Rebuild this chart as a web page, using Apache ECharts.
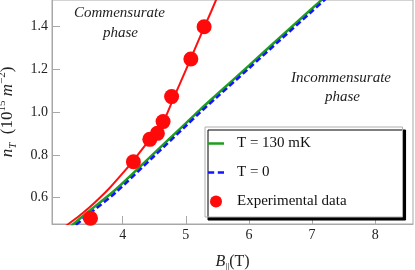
<!DOCTYPE html>
<html>
<head>
<meta charset="utf-8">
<script src="https://cdn.jsdelivr.net/npm/echarts@6/dist/echarts.min.js"></script>
<style>html,body{margin:0;padding:0;background:#fff}#c{width:415px;height:270px}</style>
</head>
<body>
<div id="c"></div>
<script>
// ---- data ----
const xTicks = [4, 5, 6, 7, 8];
const yTicks = [0.6, 0.8, 1.0, 1.2, 1.4];

const green130B = [3.15, 3.5, 3.88, 4.5, 5.0, 5.22, 5.5, 6.0, 6.5, 7.0, 7.25];
const green130N = [0.460, 0.545, 0.636, 0.809, 0.948, 1.010, 1.085, 1.218, 1.352, 1.485, 1.552];

const blue0B = [3.15, 3.5, 3.88, 4.5, 5.0, 5.22, 5.5, 6.0, 6.5, 7.0, 7.25];
const blue0N = [0.446, 0.531, 0.622, 0.795, 0.935, 0.997, 1.072, 1.205, 1.339, 1.472, 1.539];

const redFitB = [3.05, 3.14, 3.3, 3.48, 3.65, 3.8, 3.98, 4.17, 4.43, 4.64, 4.8, 5.0, 5.2, 5.4, 5.55];
const redFitN = [0.458, 0.477, 0.512, 0.556, 0.603, 0.648, 0.708, 0.774, 0.873, 0.952, 1.062, 1.197, 1.335, 1.470, 1.575];

const expB = [3.49, 4.17, 4.43, 4.55, 4.64, 4.775, 5.08, 5.29];
const expN = [0.504, 0.768, 0.873, 0.901, 0.956, 1.073, 1.249, 1.400];

const zip = (a, b) => a.map((v, i) => [v, b[i]]);

const serif = 'Liberation Serif';
const chart = echarts.init(document.getElementById('c'), null, {renderer: 'canvas'});
chart.setOption({
  animation: false,
  backgroundColor: '#fff',
  grid: {left: 52, right: 2, top: 0, bottom: 46, outerBoundsMode: 'none', containLabel: false,
    show: true, borderColor: '#a8a8a8', borderWidth: 1, backgroundColor: 'transparent'},
  xAxis: {
    type: 'value', min: 2.88, max: 8.6,
    axisLine: {lineStyle: {color: '#a8a8a8', width: 1}},
    axisTick: {inside: true, length: 8, customValues: xTicks, lineStyle: {color: '#a8a8a8'}},
    axisLabel: {customValues: xTicks, margin: 4, fontFamily: serif, fontSize: 14, color: '#222'},
    splitLine: {show: false},
    name: '{b|B}{s|||}{t|(T)}',
    nameLocation: 'middle', nameGap: 28,
    nameTextStyle: {
      rich: {
        b: {fontFamily: serif, fontStyle: 'italic', fontSize: 16, color: '#222', lineHeight: 20},
        s: {fontFamily: serif, fontSize: 10, color: '#222', verticalAlign: 'bottom', lineHeight: 14},
        t: {fontFamily: serif, fontSize: 16, color: '#222', lineHeight: 20}
      }
    }
  },
  yAxis: {
    type: 'value', min: 0.477, max: 1.525,
    axisLine: {lineStyle: {color: '#a8a8a8', width: 1}},
    axisTick: {inside: true, length: 8, customValues: yTicks, lineStyle: {color: '#a8a8a8'}},
    axisLabel: {customValues: yTicks, margin: 4, fontFamily: serif, fontSize: 14, color: '#222',
      formatter: v => v.toFixed(1)},
    splitLine: {show: false},
    name: '{n|n}{sub|T}{p|  (10}{sup|15}{m| m}{sup|−2}{p|)}',
    nameLocation: 'middle', nameGap: 33, nameRotate: 90,
    nameTextStyle: {
      rich: {
        n: {fontFamily: serif, fontStyle: 'italic', fontSize: 17, color: '#222', lineHeight: 22},
        sub: {fontFamily: serif, fontStyle: 'italic', fontSize: 11, color: '#222', verticalAlign: 'bottom', lineHeight: 15},
        p: {fontFamily: serif, fontSize: 17, color: '#222', lineHeight: 22},
        m: {fontFamily: serif, fontStyle: 'italic', fontSize: 17, color: '#222', lineHeight: 22},
        sup: {fontFamily: serif, fontSize: 11, color: '#222', verticalAlign: 'top', lineHeight: 15}
      }
    }
  },
  legend: {
    data: [
      {name: 'T = 130 mK', icon: 'path://M0,0H16V2.5H0Z'},
      {name: 'T = 0', icon: 'path://M0,0H6V2.5H0Z M9.5,0H15.5V2.5H9.5Z'},
      {name: 'Experimental data', icon: 'circle'}
    ],
    orient: 'vertical', left: 205, top: 127,
    itemWidth: 16, itemHeight: 12, itemGap: 14,
    padding: [9, 56, 8, 3],
    backgroundColor: '#fff', borderColor: '#b0b0b0', borderWidth: 1,
    shadowColor: '#000', shadowBlur: 0.5, shadowOffsetX: 3, shadowOffsetY: 3,
    textStyle: {fontFamily: serif, fontSize: 15, color: '#111', padding: [0, 0, 0, 8]}
  },
  graphic: [
    {type: 'text', left: 74, top: 6, style: {text: 'Commensurate', font: 'italic 15px "Liberation Serif"', fill: '#222'}},
    {type: 'text', left: 103, top: 26, style: {text: 'phase', font: 'italic 15px "Liberation Serif"', fill: '#222'}},
    {type: 'text', left: 291, top: 71, style: {text: 'Incommensurate', font: 'italic 15px "Liberation Serif"', fill: '#222'}},
    {type: 'text', left: 325, top: 90, style: {text: 'phase', font: 'italic 15px "Liberation Serif"', fill: '#222'}}
  ],
  series: [
    {name: 'T = 130 mK', type: 'line', data: zip(green130B, green130N), symbol: 'none', smooth: 0.3,
      lineStyle: {color: '#1e9e1e', width: 2.5}, itemStyle: {color: '#1e9e1e'}, z: 2},
    {name: 'T = 0', type: 'line', data: zip(blue0B, blue0N), symbol: 'none', smooth: 0.3,
      lineStyle: {color: '#1414ff', width: 2.5, type: [6, 3]}, itemStyle: {color: '#1414ff'}, z: 3},
    {name: 'fit', type: 'line', data: zip(redFitB, redFitN), symbol: 'none', smooth: 0.15,
      lineStyle: {color: '#ff1010', width: 2}, itemStyle: {color: '#ff1010'}, z: 4},
    {name: 'Experimental data', type: 'scatter', data: zip(expB, expN), symbol: 'circle', symbolSize: 15,
      itemStyle: {color: '#ff0a0a', opacity: 1}, z: 5}
  ]
});
</script>
</body>
</html>
